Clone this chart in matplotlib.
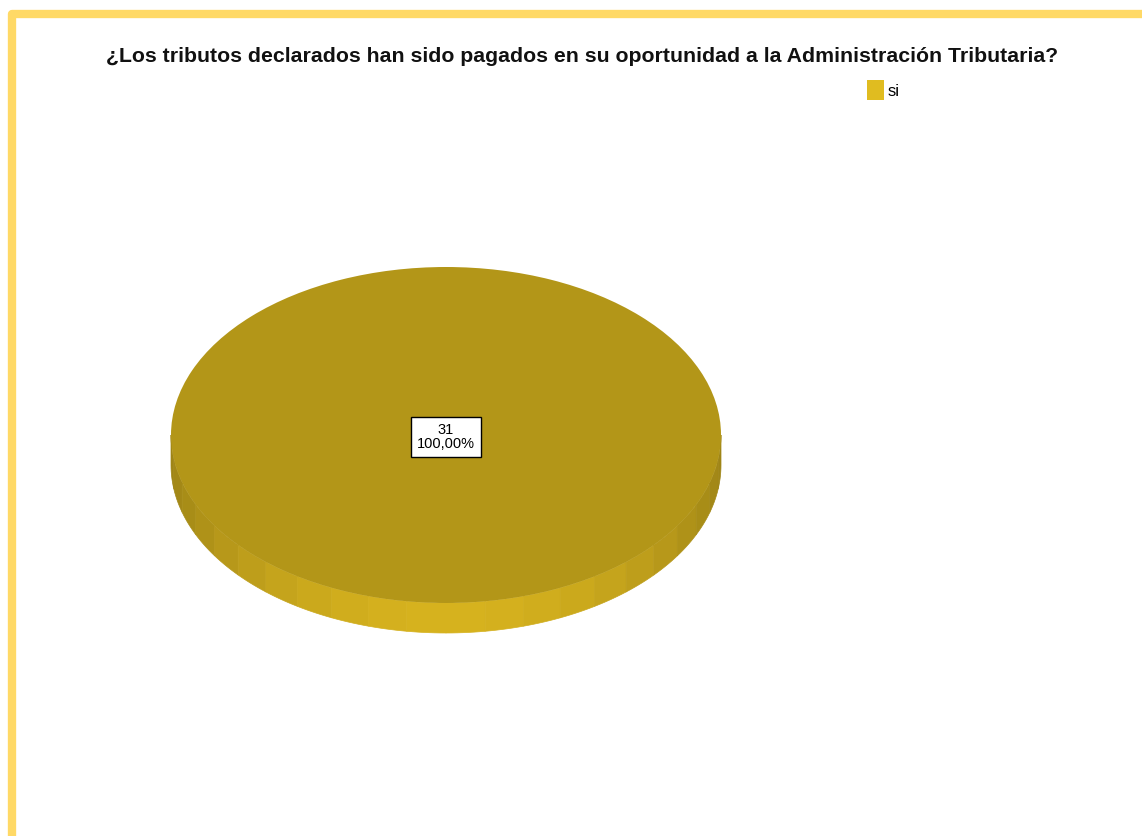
import numpy as np
import matplotlib.pyplot as plt
from matplotlib.patches import Polygon
from matplotlib.colors import to_rgb

plt.rcParams['font.family'] = ['Liberation Sans', 'DejaVu Sans']

# data
categories = ['si']
counts = [31]
title = '¿Los tributos declarados han sido pagados en su oportunidad a la Administración Tributaria?'

W, H = 1142, 836
fig = plt.figure(figsize=(W / 100, H / 100), dpi=100)
fig.patch.set_facecolor('white')

# axes covering the whole figure, unit circle -> 275 x 168 px ellipse
cx, cy, rx, ry = 446, 401, 275, 168
ax = fig.add_axes([0, 0, 1, 1])
top_color = '#B39618'
ax.pie(counts, colors=[top_color], startangle=90, counterclock=False,
       wedgeprops=dict(linewidth=0), radius=1)
ax.set_aspect('auto')
ax.set_xlim(-cx / rx, (W - cx) / rx)
ax.set_ylim(-cy / ry, (H - cy) / ry)
ax.axis('off')

# side of the 3D pie (banded shading)
depth = 30 / ry
dark = np.array(to_rgb('#9E8416'))
light = np.array(to_rgb('#D6B21E'))
n = 22
edges = np.linspace(np.pi, 2 * np.pi, n + 1)
for a0, a1 in zip(edges[:-1], edges[1:]):
    t = np.linspace(a0, a1, 8)
    xs = np.cos(t)
    ys = np.sin(t)
    pts = np.concatenate([np.column_stack([xs, ys]),
                          np.column_stack([xs[::-1], ys[::-1] - depth])])
    mid = (a0 + a1) / 2
    w = np.clip(-np.sin(mid), 0, 1) ** 1.6
    col = dark + (light - dark) * w
    ax.add_patch(Polygon(pts, closed=True, facecolor=col, edgecolor=col,
                         linewidth=0.5, zorder=0))

# label box
total = sum(counts)
for cat, v in zip(categories, counts):
    ax.text(0, -0.01, f'{v}\n{v / total * 100:.2f}%'.replace('.', ','),
            ha='center', va='center', fontsize=10.5, linespacing=1.0,
            bbox=dict(boxstyle='square,pad=0.4', facecolor='white',
                      edgecolor='black', linewidth=1.0), zorder=5)

# title
fig.text(582 / W, 1 - 57 / H, title, ha='center', va='center',
         fontsize=15.3, fontweight='bold', color='#111111')

# legend
leg = fig.legend([plt.Rectangle((0, 0), 1, 1, facecolor='#E0BC20', edgecolor='none')],
                 categories, loc='center left', bbox_to_anchor=(859 / W, 1 - 90 / H),
                 frameon=False, fontsize=12, handlelength=1.0, handleheight=1.4,
                 handletextpad=0.2, borderpad=0)

# yellow frame on top and left
border = '#FFD966'
fig.add_artist(plt.Line2D([12 / W, 12 / W, 1.02], [-0.02, 1 - 14 / H, 1 - 14 / H],
                          color=border, linewidth=6, solid_joinstyle='round',
                          transform=fig.transFigure))

fig.savefig('out.png', dpi=100, facecolor='white')
